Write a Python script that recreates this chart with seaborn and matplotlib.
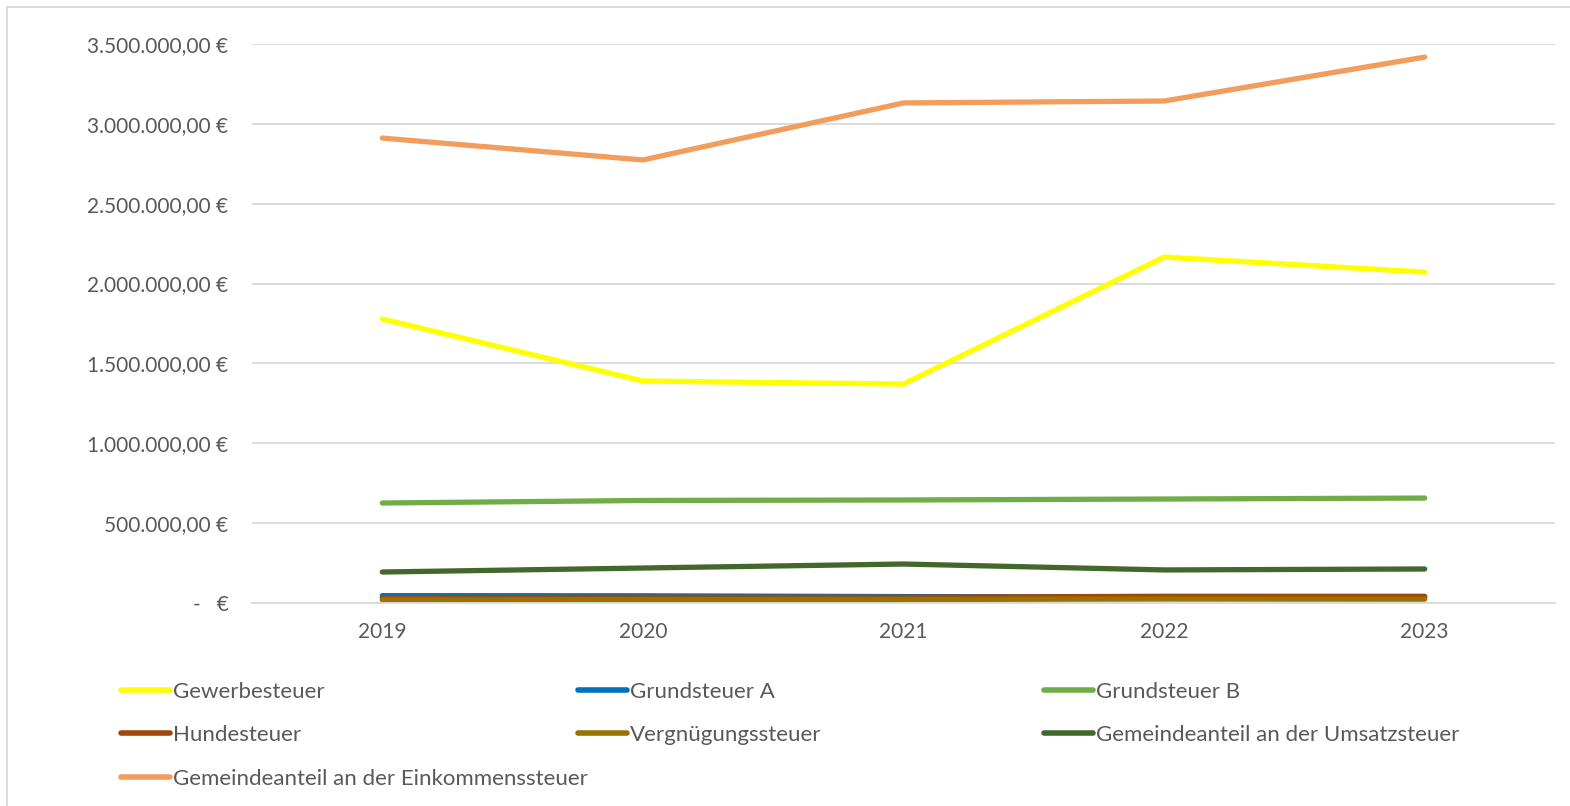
import pandas as pd
import seaborn as sns
import matplotlib.pyplot as plt
from matplotlib.lines import Line2D
from matplotlib.ticker import FuncFormatter, MultipleLocator

# Daten
jahre = ["2019", "2020", "2021", "2022", "2023"]
gewerbesteuer = [1778000, 1390000, 1371000, 2166000, 2072000]
grundsteuer_a = [46000, 45000, 40000, 38000, 36000]
grundsteuer_b = [626000, 642000, 645000, 651000, 657000]
hundesteuer = [34000, 36000, 36000, 42000, 42000]
vergnuegungssteuer = [20000, 21000, 22000, 25000, 24000]
umsatzsteuer = [194000, 219000, 244000, 207000, 213000]
einkommensteuer = [2911000, 2774000, 3131000, 3143000, 3418000]

namen = [
    "Gewerbesteuer",
    "Grundsteuer A",
    "Grundsteuer B",
    "Hundesteuer",
    "Vergnügungssteuer",
    "Gemeindeanteil an der Umsatzsteuer",
    "Gemeindeanteil an der Einkommenssteuer",
]
farben = ["#FFFF00", "#0070C0", "#70AD47", "#9E480E", "#997300", "#43682B", "#F29D5C"]

werte = [gewerbesteuer, grundsteuer_a, grundsteuer_b, hundesteuer,
         vergnuegungssteuer, umsatzsteuer, einkommensteuer]

rows = []
for name, serie in zip(namen, werte):
    for jahr, wert in zip(jahre, serie):
        rows.append({"Jahr": jahr, "Steuer": name, "Betrag": wert})
df = pd.DataFrame(rows)

sns.set_style("white")
plt.rcParams["font.family"] = ["Lato", "DejaVu Sans"]

TEXT = "#595959"
GRID = "#D9D9D9"

fig = plt.figure(figsize=(15.7, 8.06), dpi=100)
ax = fig.add_axes([252 / 1570, 1 - 603 / 806, 1303 / 1570, 559 / 806])

sns.lineplot(data=df, x="Jahr", y="Betrag", hue="Steuer", hue_order=namen,
             palette=dict(zip(namen, farben)), linewidth=3.8,
             solid_capstyle="round", legend=False, ax=ax, sort=False)

ax.set_xlim(-0.5, len(jahre) - 0.5)
ax.set_ylim(0, 3500000)
ax.yaxis.set_major_locator(MultipleLocator(500000))


def euro(v, pos):
    if v == 0:
        return "-   €"
    s = f"{v:,.2f}".replace(",", "X").replace(".", ",").replace("X", ".")
    return s + " €"


ax.yaxis.set_major_formatter(FuncFormatter(euro))
ax.grid(axis="y", color=GRID, linewidth=1.3)
ax.set_axisbelow(True)
for side in ["top", "right", "left"]:
    ax.spines[side].set_visible(False)
ax.spines["bottom"].set_color(GRID)
ax.spines["bottom"].set_linewidth(1.3)
ax.tick_params(axis="both", length=0, labelsize=15, labelcolor=TEXT)
ax.tick_params(axis="x", pad=14)
ax.tick_params(axis="y", pad=17)
ax.set_xlabel("")
ax.set_ylabel("")

# Legende in drei Spalten wie im Original
handles = {n: Line2D([], [], color=c, linewidth=4, solid_capstyle="round")
           for n, c in zip(namen, farben)}
spalten = [
    ([namen[0], namen[3], namen[6]], 112),
    ([namen[1], namen[4]], 569),
    ([namen[2], namen[5]], 1035),
]
for eintraege, x in spalten:
    leg = fig.legend([handles[n] for n in eintraege], eintraege,
                     loc="upper left", bbox_to_anchor=(x / 1570, 1 - 673 / 806),
                     frameon=False, fontsize=16, handlelength=2.2,
                     handletextpad=0.15, labelspacing=1.05, borderaxespad=0)
    for t in leg.get_texts():
        t.set_color(TEXT)

# Rahmen des Diagrammbereichs (nur links und oben sichtbar)
fig.add_artist(Line2D([7 / 1570, 7 / 1570], [0, 1 - 7 / 806], color=GRID,
                      linewidth=1.3, transform=fig.transFigure))
fig.add_artist(Line2D([7 / 1570, 1], [1 - 7 / 806, 1 - 7 / 806], color=GRID,
                      linewidth=1.3, transform=fig.transFigure))

fig.savefig("out.png", dpi=100)
